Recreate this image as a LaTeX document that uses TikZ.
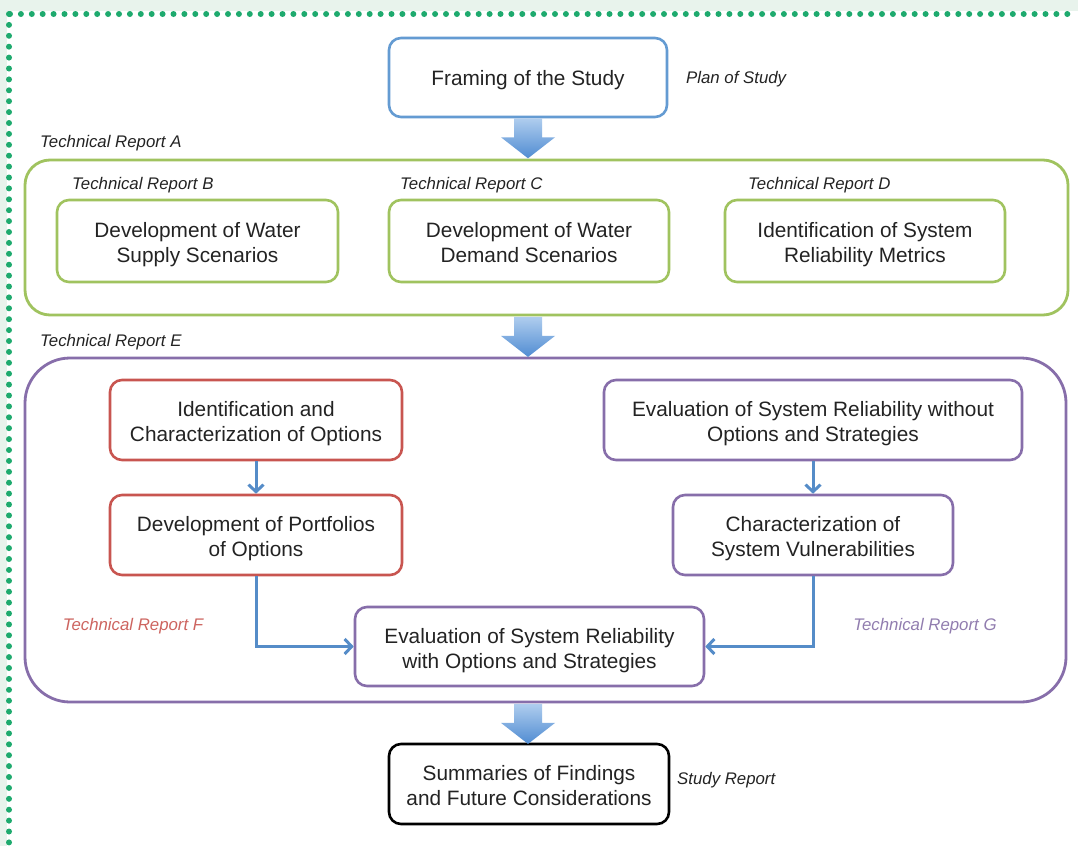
\documentclass[tikz,border=0pt]{standalone}
\usepackage{fontspec}
\setmainfont{Liberation Sans}
\usetikzlibrary{arrows.meta,calc}
\definecolor{txt}{RGB}{35,35,35}
\definecolor{cblue}{RGB}{100,155,210}
\definecolor{cgreen}{RGB}{160,195,95}
\definecolor{cpurple}{RGB}{135,110,170}
\definecolor{cred}{RGB}{200,85,80}
\definecolor{arrblue}{RGB}{85,140,200}
\definecolor{arrlight}{RGB}{175,205,238}
\definecolor{arrdark}{RGB}{80,140,210}
\definecolor{dotgreen}{RGB}{30,170,110}
\definecolor{strip}{RGB}{232,243,236}
\definecolor{labF}{RGB}{205,100,95}
\definecolor{labG}{RGB}{145,125,175}
\newcommand\twoline[2]{\raisebox{0pt}[\dimexpr\height+8pt\relax][\depth]{\begin{tabular}{@{}c@{}}#1\\#2\end{tabular}}}
\tikzset{
  box/.style={draw, line width=2.6pt, rounded corners=12pt, align=center,
    font=\fontsize{20.8}{25}\selectfont, text=txt, fill=white, inner sep=0pt},
  onebox/.style={box, execute at begin node=\rule{0pt}{21pt}, execute at end node=\vphantom{Ag}},
  container/.style={draw, line width=2.8pt, inner sep=0pt},
  lab/.style={font=\fontsize{16.8}{20}\selectfont\itshape, text=txt, anchor=west, inner sep=0pt, yshift=-2pt},
  flow/.style={draw=arrblue, line width=3pt,
    -{Straight Barb[length=7pt,width=15pt,line width=3pt]}},
  bigarr/.pic={\shade[top color=arrlight, bottom color=arrdark]
    (-14,0) -- (-14,19) -- (-27,19) -- (0,40) -- (27,19) -- (14,19) -- (14,0) -- cycle;}
}
\begin{document}
\begin{tikzpicture}[x=1pt,y=-1pt]
\useasboundingbox (0,0) rectangle (1078,846);
\fill[white] (0,0) rectangle (1078,846);
% frame strips and dots
\fill[strip] (0,0) rectangle (1078,11);
\fill[strip] (0,0) rectangle (7,846);
\draw[dotgreen, line width=6pt, line cap=round, dash pattern=on 0pt off 10.9pt] (10,14) -- (1078,14);
\draw[dotgreen, line width=6pt, line cap=round, dash pattern=on 0pt off 10.9pt] (9,14) -- (9,846);

% containers
\node[container, draw=cgreen, rounded corners=25pt, minimum width=1043pt, minimum height=155pt] (contA) at (546.5,237.5) {};
\node[container, draw=cpurple, rounded corners=45pt, minimum width=1041pt, minimum height=344pt] (contE) at (545.5,530) {};

% top
\node[onebox, draw=cblue, minimum width=278pt, minimum height=79pt] (frame) at (528,77.5) {Framing of the Study};
\node[lab] (plan) at (686,77) {Plan of Study};

\node[lab] (trA) at (40,141) {Technical Report A};
\node[lab] (trB) at (72,183) {Technical Report B};
\node[lab] (trC) at (400,183) {Technical Report C};
\node[lab] (trD) at (748,183) {Technical Report D};
\node[box, draw=cgreen, minimum width=281pt, minimum height=82pt] (supply) at (197.5,241) {\twoline{Development of Water}{Supply Scenarios}};
\node[box, draw=cgreen, minimum width=280pt, minimum height=82pt] (demand) at (529,241) {\twoline{Development of Water}{Demand Scenarios}};
\node[box, draw=cgreen, minimum width=280pt, minimum height=82pt] (metrics) at (865,241) {\twoline{Identification of System}{Reliability Metrics}};

\node[lab] (trE) at (40,340) {Technical Report E};
\node[box, draw=cred, minimum width=292pt, minimum height=80pt] (ident) at (256,420) {\twoline{Identification and}{Characterization of Options}};
\node[box, draw=cred, minimum width=292pt, minimum height=80pt] (portf) at (256,535) {\twoline{Development of Portfolios}{of Options}};
\node[box, draw=cpurple, minimum width=418pt, minimum height=80pt] (evalwo) at (813,420) {\twoline{Evaluation of System Reliability without}{Options and Strategies}};
\node[box, draw=cpurple, minimum width=280pt, minimum height=80pt] (vuln) at (813,535) {\twoline{Characterization of}{System Vulnerabilities}};
\node[box, draw=cpurple, minimum width=349pt, minimum height=79pt] (evalw) at (529.5,646.5) {\twoline{Evaluation of System Reliability}{with Options and Strategies}};
\node[lab, text=labF, anchor=center] (trF) at (133,624) {Technical Report F};
\node[lab, text=labG, anchor=center] (trG) at (925,624) {Technical Report G};

\node[box, draw=black, minimum width=280pt, minimum height=80pt] (summ) at (529,784) {\twoline{Summaries of Findings}{and Future Considerations}};
\node[lab] (study) at (677,778) {Study Report};

% small connectors
\draw[flow] (ident) -- (portf);
\draw[flow] (evalwo) -- (vuln);
\draw[flow] (portf.south) |- (evalw.west);
\draw[flow] (vuln.south) |- (evalw.east);

% big arrows
\pic at (frame.south) {bigarr};
\pic at ([yshift=-0.5pt]contA.south -| frame.south) {bigarr};
\pic at ([yshift=-0.5pt]contE.south -| frame.south) {bigarr};
\end{tikzpicture}
\end{document}
